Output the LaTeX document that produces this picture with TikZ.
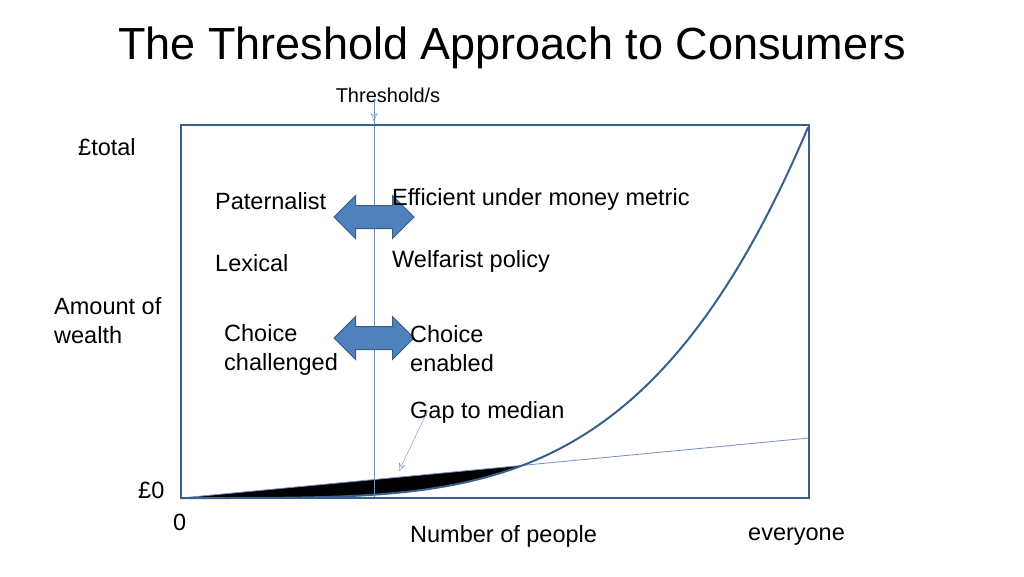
\documentclass[tikz,border=0pt]{standalone}
\usepackage{fontspec}
\setmainfont{Liberation Sans}
\usetikzlibrary{shapes.arrows,arrows.meta}
\definecolor{ax}{HTML}{3A5F8F}
\definecolor{thinc}{HTML}{6F8FC0}
\definecolor{arr}{HTML}{4F81BD}
\definecolor{arrd}{HTML}{385D8A}
\begin{document}
\begin{tikzpicture}[x=1pt,y=-1pt,
  lab/.style={anchor=west,inner sep=0pt,font=\fontsize{23.5}{27}\selectfont,align=left},
  darr/.style={double arrow,fill=arr,draw=arrd,line width=1pt,minimum height=80pt,double arrow head extend=10pt,double arrow head indent=0pt,inner sep=0pt}]
\useasboundingbox (0,0) rectangle (1024,576);
\node (title) at (512,48) {\fontsize{45}{50}\selectfont The Threshold Approach to Consumers};
\node (th) at (388,95) {\fontsize{20}{23}\selectfont Threshold/s};
% wedge
\fill[black] (181,498) -- (522.6,465.4) -- plot[domain=0.544:0,samples=40] ({181+628*\x},{498-373*(\x)^4}) -- cycle;
\draw[thinc,line width=0.8pt] (181,498) -- (809,438);
\draw[ax,line width=2pt] plot[domain=0:1,samples=100] ({181+628*\x},{498-373*(\x)^4});
\draw[thinc,line width=0.8pt] (374,100) -- (374,498);
\coordinate (ta) at (374,100);
\coordinate (tb) at (374,121);
\draw[thinc,-{Stealth[open,length=8pt,width=7pt]}] (ta) -- (tb);
\draw[ax,line width=2pt] (181,125) rectangle (809,498);
\node[darr] (a1) at (374,217) {\rule{0pt}{22pt}};
\node[darr] (a2) at (374,338) {\rule{0pt}{22pt}};
\node[lab] at (78,147) {£total};
\node[lab] at (138,490) {£0};
\node[lab] at (173,522) {0};
\node[lab] at (54,321) {Amount of\\[2pt]wealth};
\node[lab] at (215,201) {Paternalist};
\node[lab] at (392,199) {Efficient under money metric};
\node[lab] at (215,263) {Lexical};
\node[lab] at (392,261) {Welfarist policy};
\node[lab] at (224,350) {Choice\\[2pt]challenged};
\node[lab] at (410,349) {Choice\\[2pt]enabled};
\node[lab] (gap) at (410,412) {Gap to median};
\node[lab] at (410,536) {Number of people};
\node[lab] at (748,537) {everyone};
\coordinate (g1) at (428,410);
\coordinate (g2) at (399,471);
\draw[thinc,-{Stealth[open,length=8pt,width=7pt]}] (g1) -- (g2);
\end{tikzpicture}
\end{document}
